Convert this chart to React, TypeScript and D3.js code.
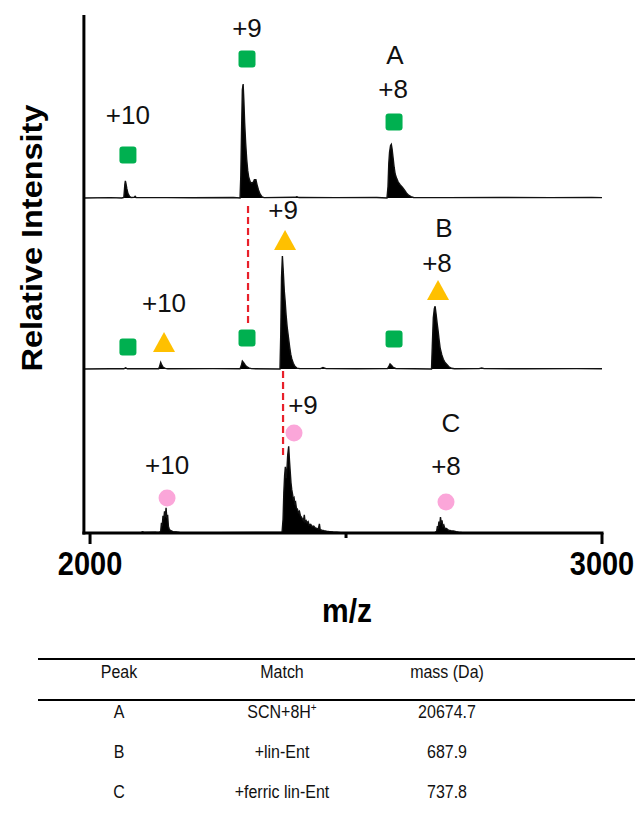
import * as d3 from "d3";

type Pt = [number, number];

// spectra, [m/z, relative intensity]
const traceA: Pt[] = [
  [1988, 0], [2040, 0.3], [2062, 0], [2066, 0.5], [2067, 6], [2068, 12], [2069, 15], [2070, 13], [2072, 8],
  [2074, 4], [2077, 1.5], [2080, 0.4], [2086, 0.5], [2088, 1.5], [2090, 0.4], [2150, 0.3], [2200, 0.2],
  [2280, 0.4], [2293, 0], [2294.5, 20], [2296, 60], [2297.5, 95], [2299, 100], [2300.5, 85], [2302, 66],
  [2304, 48], [2306, 34], [2308, 24], [2310, 18], [2313, 14], [2316, 13], [2319, 14], [2321, 16], [2324, 16],
  [2326, 12], [2329, 7], [2332, 3.5], [2336, 1], [2340, 0.3], [2400, 0.6], [2404, 1.2], [2408, 0.4],
  [2480, 0.3], [2560, 0.4], [2580, 0], [2582, 10], [2583.5, 30], [2585, 40], [2587, 46], [2588.5, 47],
  [2590, 43], [2592, 35], [2594, 27], [2596, 21], [2599, 17], [2602, 14], [2606, 11.5], [2610, 9.5],
  [2614, 7], [2618, 4.5], [2622, 2.5], [2627, 1.2], [2632, 0.5], [2700, 0.3], [2800, 0.4], [2900, 0.3],
  [2980, 0.5], [3000, 0.3],
];

const traceB: Pt[] = [
  [1988, 0], [2040, 0.2], [2066, 0.2], [2069.5, 1], [2073, 0.2], [2134, 0.2], [2136, 2.5], [2138, 5.8],
  [2140, 3.5], [2143, 1.5], [2147, 0.5], [2152, 0.2], [2240, 0.3], [2293, 0.2], [2295.5, 3], [2297.5, 7],
  [2300, 5.5], [2303, 3.5], [2306, 2], [2310, 1], [2315, 0.3], [2371, 0], [2372.5, 30], [2374, 80],
  [2375.7, 99], [2377.5, 85], [2379.5, 68], [2381, 60], [2383, 47], [2385, 37], [2387.5, 28], [2390, 19],
  [2392, 13], [2394, 9], [2397, 5], [2400, 2.5], [2404, 0.8], [2410, 0.3], [2450, 0.3], [2455, 1.3],
  [2461, 0.3], [2520, 0.2], [2581, 0.3], [2584, 2.5], [2586, 4.4], [2589, 3], [2592, 1.5], [2597, 0.5],
  [2667, 0], [2668.5, 20], [2670.5, 45], [2672.5, 53], [2674, 55], [2676, 48], [2678, 40], [2680, 33],
  [2682, 25], [2684, 18], [2687, 12.5], [2690, 8.5], [2693, 6], [2697, 4], [2701, 2], [2706, 0.6],
  [2712, 0.2], [2760, 0.3], [2765, 0.9], [2770, 0.3], [2850, 0.2], [2950, 0.3], [3000, 0.2],
];

const traceC: Pt[] = [
  [1988, 0], [2060, 0.3], [2100, 0.5], [2103, 1], [2106, 0.4], [2128, 0.8], [2130, 0.5], [2136, 0.8],
  [2138, 1.5], [2139.5, 9], [2141, 6], [2142.5, 15], [2144, 12], [2145.5, 19], [2147, 14], [2148.5, 22],
  [2150, 13], [2151.5, 16], [2153, 6], [2155, 3], [2158, 2], [2162, 1.2], [2168, 1], [2175, 0.5],
  [2250, 0.3], [2375, 0.5], [2377, 12], [2378.5, 35], [2380, 50], [2381.5, 58], [2383, 48], [2384.5, 55],
  [2386, 68], [2388, 76], [2389.5, 64], [2391, 54], [2392.5, 44], [2394, 38], [2395.5, 34], [2397, 30],
  [2398.5, 31], [2400, 26], [2401.5, 27], [2403, 22], [2405, 21], [2407, 18], [2409, 19], [2411, 15],
  [2413, 14], [2415, 12], [2417, 11], [2418.5, 16], [2420, 10], [2422, 11], [2424, 9], [2426, 10],
  [2428, 7], [2431, 7.5], [2434, 5.5], [2437, 6], [2440, 4.5], [2443, 4], [2446, 3.5], [2448, 8],
  [2449.5, 3], [2453, 2.5], [2457, 2], [2462, 1.5], [2468, 1.2], [2475, 0.9], [2482, 0.7], [2490, 0.3],
  [2600, 0.2], [2674, 0.5], [2677, 1.5], [2678.5, 6], [2680, 4], [2681.5, 10], [2683, 7], [2684.5, 14],
  [2686, 9], [2687.5, 11], [2689, 6], [2691, 7], [2693, 4], [2696, 4], [2700, 2.5], [2705, 2], [2710, 1.8],
  [2715, 1.2], [2720, 0.8], [2728, 0.3], [2800, 0.2], [3000, 0],
];

const xTicks = [2000, 2500, 3000];
const xTickLabels = ["2000", "", "3000"];

// markers: m/z and height above the trace baseline (intensity units)
const markersA = [
  { kind: "square", mz: 2074, lv: 37.7 },
  { kind: "square", mz: 2306.6, lv: 121.9 },
  { kind: "square", mz: 2593.8, lv: 66.7 },
];
const markersB = [
  { kind: "square", mz: 2074, lv: 19.3 },
  { kind: "triangle", mz: 2144.5, lv: 23.7 },
  { kind: "square", mz: 2306.6, lv: 27.2 },
  { kind: "triangle", mz: 2380.9, lv: 113.2 },
  { kind: "square", mz: 2593.8, lv: 26.3 },
  { kind: "triangle", mz: 2679.7, lv: 69.3 },
];
const markersC = [
  { kind: "circle", mz: 2150.4, lv: 30.7 },
  { kind: "circle", mz: 2398.4, lv: 87.7 },
  { kind: "circle", mz: 2695.3, lv: 27.2 },
];

const labelsA = [
  { text: "+10", mz: 2074, lv: 72.8 },
  { text: "+9", mz: 2306.6, lv: 149.1 },
  { text: "+8", mz: 2592, lv: 95.6 },
  { text: "A", mz: 2595.7, lv: 125.4 },
];
const labelsB = [
  { text: "+10", mz: 2144.5, lv: 57.9 },
  { text: "+9", mz: 2377, lv: 139.5 },
  { text: "+8", mz: 2677.7, lv: 93 },
  { text: "B", mz: 2691.4, lv: 123.7 },
];
const labelsC = [
  { text: "+10", mz: 2150.4, lv: 59.6 },
  { text: "+9", mz: 2416, lv: 112.3 },
  { text: "+8", mz: 2695.3, lv: 58.8 },
  { text: "C", mz: 2705, lv: 96.5 },
];

// red dashed guides (panel index, m/z, from/to level)
const guides = [
  { panel: 1, mz: 2308.6, from: 40.4, to: 145.6 },
  { panel: 2, mz: 2377, from: 68.4, to: 142.1 },
];

const tableHeader = ["Peak", "Match", "mass (Da)"];
const tablePeaks = ["A", "B", "C"];
const tableMatches = ["SCN+8H", "+lin-Ent", "+ferric lin-Ent"];
const tableMasses = ["20674.7", "687.9", "737.8"];

const FONT = "'Liberation Sans', Arial, Helvetica, sans-serif";
const GREEN = "#00b050";
const ORANGE = "#ffc000";
const PINK = "#fba6d9";

const panels = [
  { trace: traceA, markers: markersA, labels: labelsA, base: 198 },
  { trace: traceB, markers: markersB, labels: labelsB, base: 369 },
  { trace: traceC, markers: markersC, labels: labelsC, base: 533 },
];

function Marker({ kind, cx, cy }: { kind: string; cx: number; cy: number }) {
  if (kind === "square")
    return <rect x={cx - 8.5} y={cy - 8.5} width={17} height={17} rx={3} fill={GREEN} />;
  if (kind === "triangle") {
    const w = 22, h = 20;
    return <path d={`M${cx},${cy - h / 2}L${cx + w / 2},${cy + h / 2}L${cx - w / 2},${cy + h / 2}Z`} fill={ORANGE} />;
  }
  return <circle cx={cx} cy={cy} r={8.5} fill={PINK} />;
}

export default function App() {
  const x = d3.scaleLinear().domain([1988, 3000]).range([83.9, 602]);
  const yPx = d3.scaleLinear().domain([0, 100]).range([0, 114]);
  const axisY = 533;
  const colX = [119, 282, 447];
  const rowY = [712, 752, 792];

  return (
    <svg width={635} height={816} style={{ position: "absolute", left: 0, top: 0, background: "#fff" }} fontFamily={FONT}>
      {panels.map((p, i) => {
        const y = (v: number) => p.base - yPx(v);
        const area = d3.area<Pt>().x((d) => x(d[0])).y0(p.base).y1((d) => y(d[1]));
        const line = d3.line<Pt>().x((d) => x(d[0])).y((d) => y(d[1]));
        return (
          <g key={i}>
            <path d={area(p.trace) || ""} fill="#000" />
            <path d={line(p.trace) || ""} fill="none" stroke="#111" strokeWidth={1.4} />
            {p.markers.map((m, j) => (
              <Marker key={j} kind={m.kind} cx={x(m.mz)} cy={y(m.lv)} />
            ))}
            {p.labels.map((l, j) => (
              <text key={j} x={x(l.mz)} y={y(l.lv)} dy="0.36em" textAnchor="middle" fontSize={26} fill="#111">
                {l.text}
              </text>
            ))}
          </g>
        );
      })}

      {guides.map((g, i) => {
        const base = panels[g.panel].base;
        return (
          <line key={i} x1={x(g.mz)} x2={x(g.mz)} y1={base - yPx(g.from)} y2={base - yPx(g.to)}
            stroke="#e8202a" strokeWidth={2.2} strokeDasharray="7,4" />
        );
      })}

      {/* axes */}
      <line x1={x(1988)} x2={x(1988)} y1={15} y2={axisY + 1.5} stroke="#000" strokeWidth={3} />
      <line x1={x(1988) - 1.5} x2={x(3000) + 1.5} y1={axisY} y2={axisY} stroke="#000" strokeWidth={3} />
      {xTicks.map((t, i) => (
        <g key={t}>
          <line x1={x(t)} x2={x(t)} y1={axisY} y2={axisY + (xTickLabels[i] ? 11 : 5)} stroke="#000" strokeWidth={3} />
          {xTickLabels[i] && (
            <text transform={`translate(${x(t)},575) scale(1,1.12)`} textAnchor="middle" fontSize={29} fontWeight="bold">
              {xTickLabels[i]}
            </text>
          )}
        </g>
      ))}
      <text transform="translate(347,622) scale(1,1.12)" textAnchor="middle" fontSize={30} fontWeight="bold">m/z</text>
      <text transform="translate(42,238) rotate(-90) scale(1.12,1)" textAnchor="middle" fontSize={29} fontWeight="bold">
        Relative Intensity
      </text>

      {/* table */}
      <line x1={38} x2={635} y1={659} y2={659} stroke="#000" strokeWidth={2} />
      <line x1={38} x2={635} y1={700} y2={700} stroke="#000" strokeWidth={2} />
      {tableHeader.map((h, i) => (
        <text key={h} transform={`translate(${colX[i]},678) scale(1,1.12)`} textAnchor="middle" fontSize={16} fill="#111">{h}</text>
      ))}
      {tablePeaks.map((pk, r) => (
        <g key={pk}>
          <text transform={`translate(${colX[0]},${rowY[r] + 6}) scale(1,1.12)`} textAnchor="middle" fontSize={16} fill="#111">{pk}</text>
          <text transform={`translate(${colX[1]},${rowY[r] + 6}) scale(1,1.12)`} textAnchor="middle" fontSize={16} fill="#111">
            {tableMatches[r]}
            {r === 0 && <tspan dy={-6} fontSize={10}>+</tspan>}
          </text>
          <text transform={`translate(${colX[2]},${rowY[r] + 6}) scale(1,1.12)`} textAnchor="middle" fontSize={16} fill="#111">{tableMasses[r]}</text>
        </g>
      ))}
    </svg>
  );
}
